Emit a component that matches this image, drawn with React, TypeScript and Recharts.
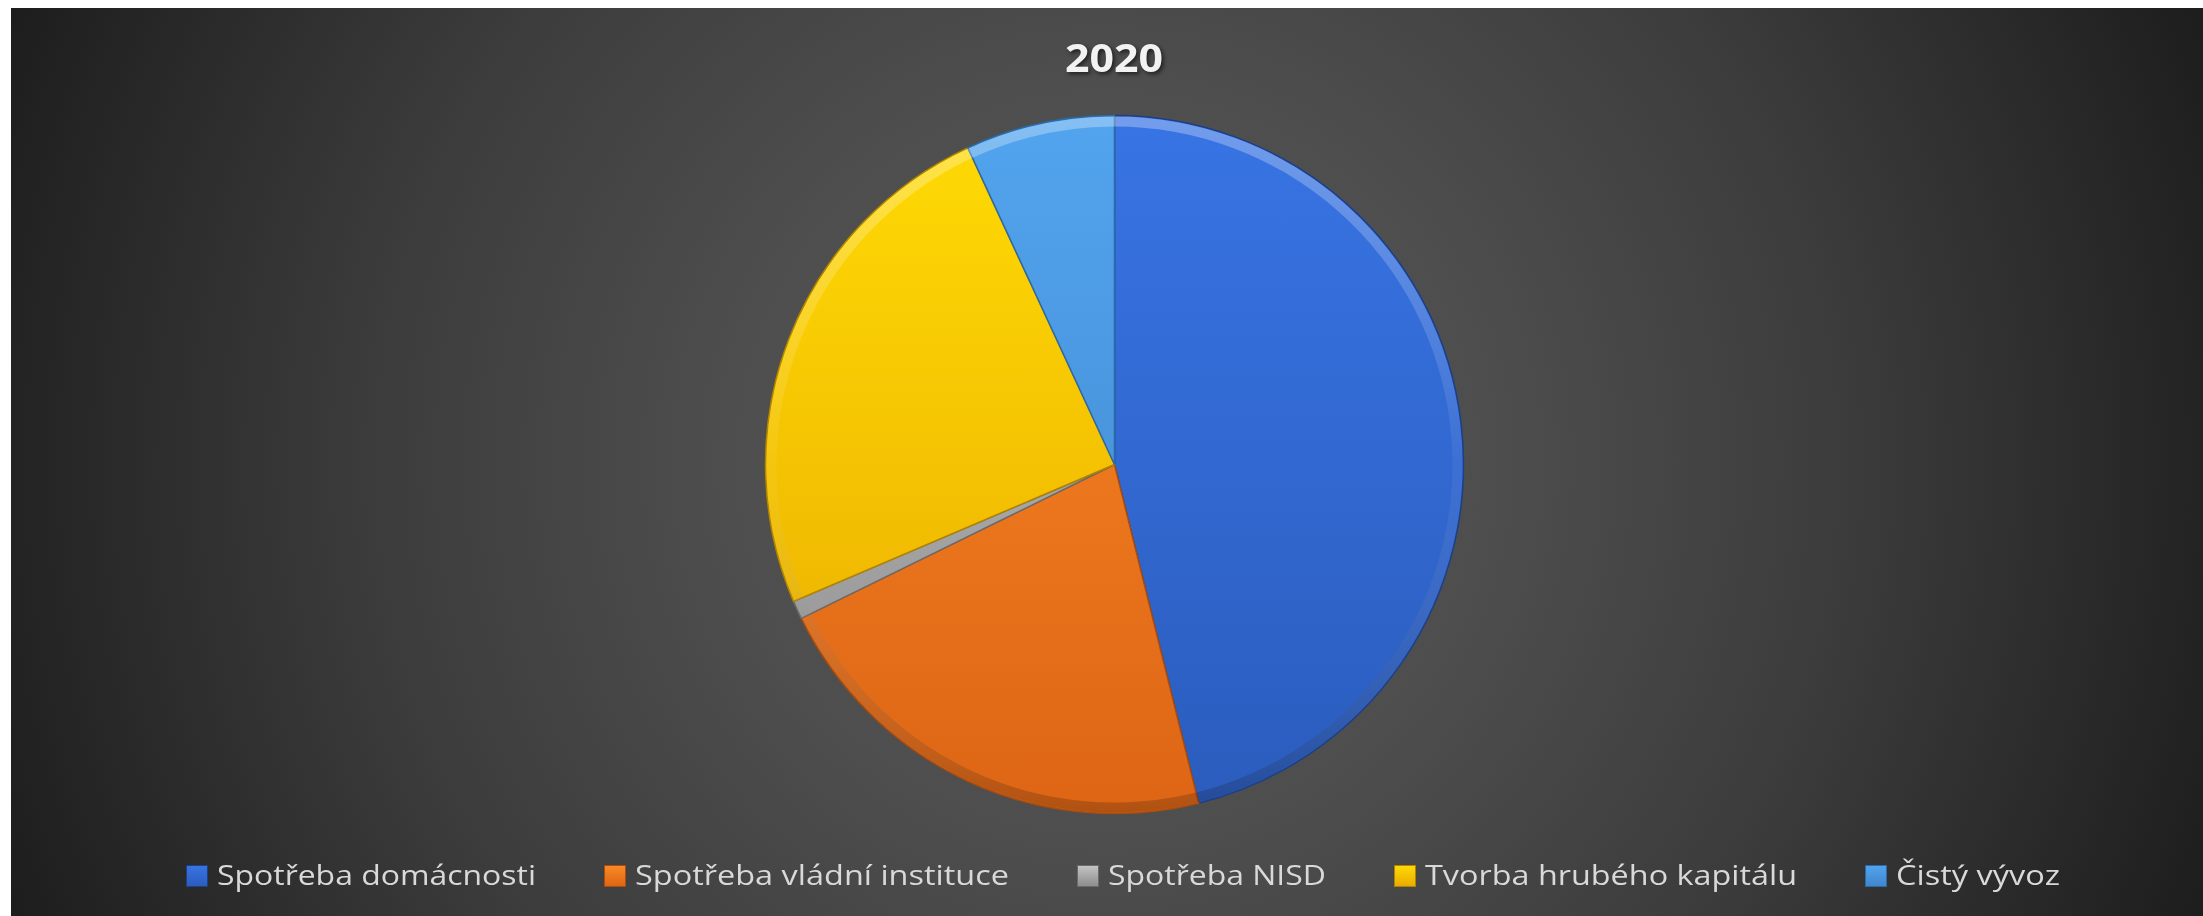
import { PieChart, Pie, Cell, Legend } from "recharts";

// HDP 2020 – výdajová metoda (podíly v %)
const categories = [
  "Spotřeba domácnosti",
  "Spotřeba vládní instituce",
  "Spotřeba NISD",
  "Tvorba hrubého kapitálu",
  "Čistý vývoz",
];
const shares = [46.1, 21.6, 0.85, 24.5, 6.9];

const topColors = ["#3874e4", "#fb8a26", "#c4c4c4", "#ffdb05", "#52a4ee"];
const bottomColors = ["#2b5cbd", "#dd6515", "#8c8c8c", "#e9aa00", "#3f86cc"];
const strokes = ["#1d3f85", "#a94c0e", "#6b6b6b", "#b08300", "#2b6aa6"];
const labelWidths = [319, 374, 218, 372, 164];

const data = categories.map((name, i) => ({ name, value: shares[i] }));

const W = 2192;
const H = 908;

function LegendRow() {
  return (
    <div style={{ display: "flex", gap: 68, paddingLeft: 175, height: 46 }}>
      {categories.map((c, i) => (
        <div key={c} style={{ display: "flex", gap: 9 }}>
          <svg width={22} height={46}>
            <defs>
              <linearGradient id={`lg${i}`} x1="0" y1="0" x2="0" y2="1">
                <stop offset="0%" stopColor={topColors[i]} />
                <stop offset="100%" stopColor={bottomColors[i]} />
              </linearGradient>
            </defs>
            <rect x={0.5} y={12.5} width={21} height={21} fill={`url(#lg${i})`} stroke={strokes[i]} />
          </svg>
          <svg width={labelWidths[i]} height={46} style={{ overflow: "visible" }}>
            <text
              x={0}
              y={32}
              fontSize={27}
              fontFamily="'Open Sans', sans-serif"
              fill="#d9d9d9"
              textLength={labelWidths[i]}
              lengthAdjust="spacingAndGlyphs"
            >
              {c}
            </text>
          </svg>
        </div>
      ))}
    </div>
  );
}

export default function App() {
  return (
    <div
      style={{
        position: "fixed",
        left: 11,
        top: 8,
        width: W,
        height: H,
        background:
          "radial-gradient(circle farthest-corner at 50% 50%, #555555 0%, #4e4e4e 32%, #3c3c3c 62%, #1d1d1d 100%)",
      }}
    >
      <svg width={W} height={80} style={{ position: "absolute", left: 0, top: 0 }}>
        <text
          x={1103}
          y={64}
          textAnchor="middle"
          fontSize={40}
          fontWeight="bold"
          fontFamily="'Open Sans', sans-serif"
          fill="#f2f2f2"
          textLength={98}
          lengthAdjust="spacingAndGlyphs"
          style={{ filter: "drop-shadow(2px 2px 2px rgba(0,0,0,0.6))" }}
        >
          2020
        </text>
      </svg>
      <PieChart width={W} height={H} margin={{ top: 0, right: 0, bottom: 0, left: 0 }}>
        <defs>
          {categories.map((c, i) => (
            <linearGradient
              key={c}
              id={`pg${i}`}
              gradientUnits="userSpaceOnUse"
              x1={0}
              y1={107}
              x2={0}
              y2={806}
            >
              <stop offset="0%" stopColor={topColors[i]} />
              <stop offset="100%" stopColor={bottomColors[i]} />
            </linearGradient>
          ))}
          <linearGradient id="rim" gradientUnits="userSpaceOnUse" x1={0} y1={107} x2={0} y2={806}>
            <stop offset="0%" stopColor="#ffffff" stopOpacity={0.3} />
            <stop offset="50%" stopColor="#ffffff" stopOpacity={0.05} />
            <stop offset="100%" stopColor="#000000" stopOpacity={0.2} />
          </linearGradient>
        </defs>
        <Pie
          data={data}
          dataKey="value"
          nameKey="name"
          cx={1103.5}
          cy={456.5}
          outerRadius={349}
          startAngle={90}
          endAngle={-270}
          isAnimationActive={false}
          label={false}
          labelLine={false}
        >
          {data.map((d, i) => (
            <Cell key={d.name} fill={`url(#pg${i})`} stroke={strokes[i]} strokeWidth={1.5} />
          ))}
        </Pie>
        {/* bevel rim */}
        <Pie
          data={data}
          dataKey="value"
          nameKey="name"
          cx={1103.5}
          cy={456.5}
          innerRadius={338}
          outerRadius={348}
          startAngle={90}
          endAngle={-270}
          isAnimationActive={false}
          label={false}
          labelLine={false}
          stroke="none"
          fill="url(#rim)"
        />
        <Legend
          content={() => <LegendRow />}
          wrapperStyle={{ left: 0, top: 845, bottom: "auto", width: W, height: 46 }}
        />
      </PieChart>
    </div>
  );
}
